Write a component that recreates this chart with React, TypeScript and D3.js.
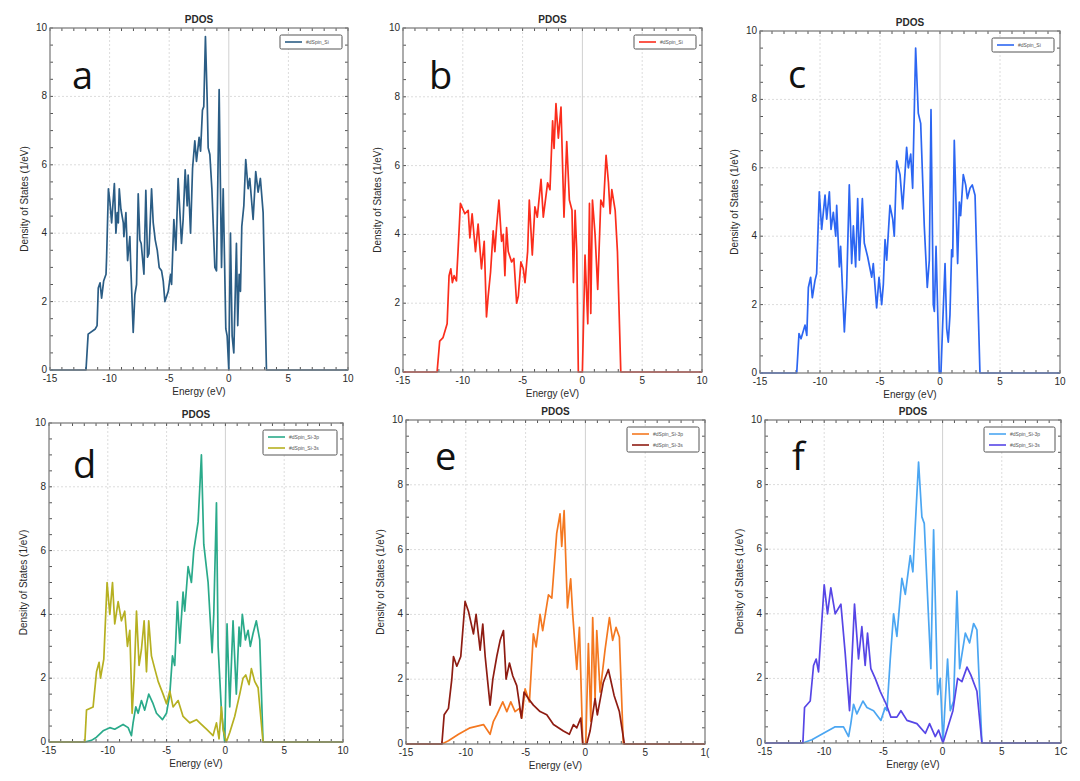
import * as d3 from "d3";

// ---- data: energy (eV) / DOS (1/eV) ----
const siE = [-15, -11.98, -11.8, -11.2, -11.05, -10.95, -10.8, -10.67, -10.5, -10.3, -10.25, -10.1, -9.97, -9.83, -9.6, -9.47, -9.36, -9.27, -9.19, -9.05, -8.85, -8.8, -8.63, -8.49, -8.3, -8.24, -8.02, -7.88, -7.74, -7.6, -7.46, -7.35, -7.12, -6.96, -6.82, -6.7, -6.48, -6.34, -6.17, -6.0, -5.84, -5.64, -5.5, -5.36, -5.08, -4.89, -4.8, -4.61, -4.44, -4.25, -3.97, -3.83, -3.66, -3.49, -3.41, -3.21, -3.04, -2.85, -2.71, -2.49, -2.37, -2.21, -2.1, -1.96, -1.82, -1.73, -1.59, -1.42, -1.17, -1.03, -0.81, -0.61, -0.47, -0.25, -0.14, 0, 0.14, 0.28, 0.42, 0.64, 0.75, 0.87, 0.98, 1.09, 1.26, 1.42, 1.62, 1.76, 2.04, 2.26, 2.46, 2.65, 2.88, 3.16, 10];
const siD = [0, 0, 1.05, 1.2, 1.3, 2.4, 2.55, 2.1, 2.6, 2.8, 3.3, 5.3, 4.9, 4.3, 5.45, 4.0, 4.6, 4.3, 5.3, 4.7, 4.3, 3.9, 4.6, 3.2, 3.9, 3.2, 1.1, 2.2, 2.5, 5.15, 3.8, 3.7, 2.8, 5.25, 3.3, 3.4, 5.3, 4.3, 3.8, 3.5, 3.0, 2.9, 2.6, 2.0, 2.3, 2.8, 2.5, 4.4, 3.5, 5.6, 3.7, 4.4, 5.85, 4.8, 5.7, 4.0, 5.9, 6.7, 6.1, 6.8, 6.4, 7.6, 7.7, 9.75, 8.0, 6.5, 6.3, 5.3, 3.0, 2.9, 8.2, 3.0, 5.3, 1.2, 1.0, 0, 4.0, 1.0, 0.5, 3.7, 1.3, 2.8, 2.3, 4.2, 4.8, 6.15, 5.3, 5.6, 4.4, 5.8, 5.2, 5.6, 4.6, 0, 0];

const siBE = [-15, -12.15, -11.93, -11.65, -11.31, -11.15, -11.0, -10.87, -10.73, -10.53, -10.4, -10.2, -9.83, -9.55, -9.41, -9.22, -8.94, -8.72, -8.44, -8.21, -8.02, -7.88, -7.68, -7.46, -7.32, -7.18, -6.98, -6.76, -6.62, -6.48, -6.34, -6.2, -5.92, -5.73, -5.5, -5.36, -5.14, -4.94, -4.8, -4.58, -4.44, -4.19, -3.97, -3.77, -3.46, -3.27, -2.91, -2.71, -2.49, -2.37, -2.21, -2.01, -1.79, -1.54, -1.31, -1.09, -0.87, -0.75, -0.61, -0.47, -0.34, 0, 0.22, 0.45, 0.59, 0.7, 0.84, 1.06, 1.28, 1.54, 1.76, 1.98, 2.18, 2.32, 2.46, 2.74, 2.93, 3.21, 10];
const siBD = [0, 0, 0.9, 1.0, 1.4, 2.8, 3.0, 2.6, 2.8, 2.65, 3.5, 4.9, 4.6, 4.7, 3.9, 4.6, 3.5, 4.3, 3.0, 3.8, 1.6, 2.2, 2.9, 4.1, 3.5, 4.2, 5.0, 3.8, 4.0, 2.8, 4.2, 3.5, 3.2, 3.3, 2.0, 2.2, 3.2, 3.0, 2.6, 3.5, 5.0, 3.4, 4.8, 4.5, 5.6, 4.5, 5.5, 5.3, 7.3, 6.5, 7.8, 6.8, 7.7, 4.5, 6.7, 5.0, 4.7, 2.6, 4.7, 3.5, 0, 0, 3.4, 1.4, 4.9, 1.7, 5.0, 4.0, 2.4, 5.0, 4.8, 6.3, 5.5, 4.6, 5.3, 4.7, 3.5, 0, 0];

const siCE = [-15, -11.94, -11.75, -11.58, -11.25, -11.1, -10.97, -10.78, -10.64, -10.42, -10.28, -10.06, -9.86, -9.58, -9.44, -9.22, -9.08, -8.89, -8.69, -8.61, -8.39, -8.28, -7.97, -7.78, -7.56, -7.36, -7.22, -7.03, -6.86, -6.72, -6.47, -6.31, -6.03, -5.69, -5.56, -5.28, -5.08, -4.86, -4.72, -4.58, -4.44, -4.17, -3.94, -3.81, -3.61, -3.33, -3.11, -2.78, -2.64, -2.44, -2.28, -2.03, -1.81, -1.61, -1.31, -1.06, -0.89, -0.75, -0.56, -0.47, -0.33, -0.06, 0.08, 0.22, 0.42, 0.56, 0.69, 0.83, 0.97, 1.06, 1.19, 1.47, 1.61, 1.72, 1.94, 2.14, 2.28, 2.5, 2.69, 2.92, 3.33, 10];
const siCD = [0, 0, 1.15, 1.0, 1.4, 1.1, 2.5, 2.8, 2.2, 2.7, 2.9, 5.3, 4.2, 5.2, 4.5, 5.3, 4.2, 4.7, 4.0, 4.9, 3.1, 3.7, 1.2, 2.5, 5.5, 3.2, 4.3, 3.1, 5.1, 3.3, 5.1, 3.8, 3.4, 2.8, 3.2, 1.9, 2.8, 2.0, 2.6, 3.9, 3.3, 4.9, 4.5, 4.0, 6.2, 5.8, 4.8, 6.6, 6.0, 6.4, 5.4, 9.5, 7.6, 7.3, 4.3, 2.5, 3.3, 7.7, 2.0, 1.8, 3.7, 0, 0, 1.4, 3.2, 1.3, 0.9, 1.7, 3.6, 3.4, 6.8, 3.2, 5.0, 4.6, 5.8, 5.5, 5.1, 5.4, 5.5, 5.2, 0, 0];

const dpE = [-15, -11.95, -11.39, -10.96, -10.4, -9.83, -9.41, -8.7, -8.27, -7.99, -7.85, -7.62, -7.42, -7.14, -6.86, -6.52, -6.15, -5.86, -5.35, -5.01, -4.73, -4.5, -4.31, -4.08, -3.88, -3.6, -3.46, -3.17, -2.89, -2.69, -2.32, -2.04, -1.84, -1.47, -1.13, -0.99, -0.76, -0.62, -0.34, -0.06, 0.14, 0.37, 0.65, 0.93, 1.16, 1.27, 1.44, 1.7, 1.93, 2.12, 2.35, 2.63, 2.92, 3.2, 10];
const dpD = [0, 0, 0.05, 0.15, 0.35, 0.45, 0.4, 0.55, 0.45, 0.2, 0.6, 1.1, 0.9, 1.3, 1.0, 1.5, 1.2, 0.9, 0.7, 0.9, 1.5, 2.7, 2.4, 4.4, 3.1, 4.7, 4.1, 5.5, 5.0, 6.0, 6.9, 9.0, 6.2, 5.0, 2.8, 4.0, 7.5, 3.0, 1.0, 0, 3.7, 1.1, 3.8, 1.5, 3.6, 3.0, 4.0, 3.2, 3.5, 3.0, 3.4, 3.8, 3.2, 0, 0];
const dsE = [-15, -11.95, -11.81, -11.25, -10.96, -10.74, -10.62, -10.34, -10.06, -9.83, -9.6, -9.41, -9.12, -8.84, -8.56, -8.33, -8.13, -7.93, -7.76, -7.56, -7.34, -7.14, -6.91, -6.71, -6.52, -6.29, -6.01, -5.72, -5.3, -5.01, -4.73, -4.45, -4.02, -3.6, -3.03, -2.46, -2.18, -1.61, -1.05, -0.76, -0.54, -0.34, -0.2, 0.08, 0.37, 0.79, 1.22, 1.5, 1.73, 2.01, 2.21, 2.49, 2.78, 3.2, 10];
const dsD = [0, 0, 1.0, 1.1, 2.2, 2.5, 2.0, 2.6, 5.0, 4.0, 5.0, 3.7, 4.4, 3.8, 4.1, 3.0, 3.5, 0.9, 2.0, 4.1, 2.4, 2.9, 3.8, 2.2, 3.8, 2.7, 2.3, 1.9, 1.5, 1.2, 1.6, 1.1, 1.3, 0.8, 0.6, 0.7, 0.6, 0.4, 0.2, 0.6, 0.1, 1.1, 0.4, 0, 0.3, 0.8, 1.5, 2.0, 2.1, 1.8, 2.3, 1.9, 1.7, 0, 0];

const epE = [-15, -12.0, -11.45, -10.61, -9.64, -8.52, -7.97, -7.69, -7.41, -6.91, -6.57, -6.24, -5.88, -5.52, -5.32, -5.04, -4.68, -4.35, -4.12, -3.79, -3.57, -3.09, -2.81, -2.4, -2.12, -1.98, -1.78, -1.5, -1.23, -1.06, -0.72, -0.5, -0.22, 0.03, 0.25, 0.45, 0.61, 0.81, 0.95, 1.23, 1.64, 2.01, 2.28, 2.56, 2.84, 3.17, 10];
const epD = [0, 0, 0.1, 0.3, 0.5, 0.6, 0.3, 0.7, 0.9, 1.3, 1.0, 1.3, 1.0, 1.1, 0.8, 1.7, 1.3, 3.4, 3.0, 4.0, 3.5, 4.6, 4.5, 6.5, 7.1, 6.1, 7.2, 4.2, 5.1, 4.0, 2.3, 3.6, 0, 0, 3.1, 0.7, 3.9, 1.4, 3.5, 1.6, 2.9, 3.9, 3.2, 3.6, 3.3, 0, 0];
const esE = [-15, -12.0, -11.81, -11.45, -11.17, -11.03, -10.75, -10.42, -10.06, -9.78, -9.36, -9.14, -8.8, -8.58, -8.38, -7.97, -7.74, -7.41, -7.13, -6.85, -6.63, -6.35, -6.07, -5.74, -5.35, -5.13, -4.76, -4.35, -3.79, -3.23, -2.67, -1.84, -1.34, -1.0, -0.72, -0.39, -0.22, 0.11, 0.39, 0.81, 1.0, 1.5, 1.92, 2.4, 2.84, 3.26, 10];
const esD = [0, 0, 0.9, 1.1, 2.0, 2.7, 2.4, 2.7, 4.4, 4.1, 3.4, 4.0, 2.9, 3.7, 2.7, 1.2, 2.0, 2.7, 3.2, 3.5, 2.0, 2.5, 2.1, 1.8, 0.8, 1.6, 1.4, 1.2, 1.0, 0.9, 0.6, 0.4, 0.3, 0.6, 0.5, 0.8, 0, 0, 0.4, 1.4, 0.9, 1.9, 2.3, 1.5, 1.0, 0, 0];

const fpE = [-15, -11.8, -11.04, -10.06, -9.07, -8.37, -7.94, -7.75, -7.52, -7.24, -6.73, -6.39, -5.83, -5.21, -4.85, -4.7, -4.42, -4.14, -3.86, -3.44, -3.15, -2.73, -2.51, -2.03, -1.75, -1.55, -0.99, -0.76, -0.42, -0.2, 0.03, 0.42, 0.65, 0.93, 1.21, 1.44, 1.92, 2.28, 2.62, 2.9, 3.32, 10];
const fpD = [0, 0, 0.1, 0.3, 0.5, 0.5, 0.2, 0.6, 1.2, 0.9, 1.3, 1.1, 1.0, 0.7, 1.1, 1.0, 2.6, 4.0, 3.3, 5.1, 4.6, 5.8, 5.3, 8.7, 7.0, 6.8, 2.3, 6.6, 1.5, 2.0, 0, 2.6, 1.0, 1.3, 4.7, 2.3, 3.4, 3.1, 3.7, 3.5, 0, 0];
const fsE = [-15, -11.8, -11.66, -11.18, -10.9, -10.68, -10.48, -10.0, -9.72, -9.44, -9.07, -8.59, -8.23, -7.86, -7.44, -7.1, -6.82, -6.54, -6.34, -6.06, -5.69, -5.27, -4.76, -4.37, -3.86, -3.52, -3.01, -2.17, -1.46, -1.1, -0.62, -0.34, 0.03, 0.37, 0.87, 1.27, 1.63, 2.06, 2.39, 2.9, 3.32, 10];
const fsD = [0, 0, 1.1, 1.3, 2.4, 2.6, 2.2, 4.9, 4.0, 4.8, 4.0, 4.3, 2.8, 1.0, 4.3, 2.6, 3.6, 2.4, 3.4, 2.3, 2.0, 1.6, 1.2, 0.8, 0.8, 1.0, 0.7, 0.6, 0.3, 0.6, 0.2, 0.4, 0, 0.4, 1.0, 2.0, 1.9, 2.35, 2.1, 1.6, 0, 0];

const xTicks = [-15, -10, -5, 0, 5, 10];
const yTicks = [0, 2, 4, 6, 8, 10];

type Series = { name: string; e: number[]; d: number[]; color: string };
type PanelSpec = {
  letter: string;
  left: number;
  right: number;
  top: number;
  bottom: number;
  letterX: number;
  letterY: number;
  legendW: number;
  lastXLabel?: string;
  series: Series[];
};

const panels: PanelSpec[] = [
  { letter: "a", left: 50, right: 348, top: 28, bottom: 370, letterX: 72, letterY: 89, legendW: 62,
    series: [{ name: "#dSpin_Si", e: siE, d: siD, color: "#2b5d85" }] },
  { letter: "b", left: 403, right: 702, top: 28, bottom: 372, letterX: 429, letterY: 89, legendW: 62,
    series: [{ name: "#dSpin_Si", e: siBE, d: siBD, color: "#fb2d1c" }] },
  { letter: "c", left: 760, right: 1060, top: 31, bottom: 373, letterX: 788, letterY: 88, legendW: 62,
    series: [{ name: "#dSpin_Si", e: siCE, d: siCD, color: "#2c66f2" }] },
  { letter: "d", left: 49, right: 343, top: 423, bottom: 742, letterX: 73, letterY: 478, legendW: 74,
    series: [
      { name: "#dSpin_Si-3p", e: dpE, d: dpD, color: "#2aaa8a" },
      { name: "#dSpin_Si-3s", e: dsE, d: dsD, color: "#b6b021" },
    ] },
  { letter: "e", left: 406, right: 705, top: 420, bottom: 744, letterX: 435, letterY: 470, legendW: 72, lastXLabel: "1(",
    series: [
      { name: "#dSpin_Si-3p", e: epE, d: epD, color: "#f47820" },
      { name: "#dSpin_Si-3s", e: esE, d: esD, color: "#8e1c12" },
    ] },
  { letter: "f", left: 765, right: 1061, top: 420, bottom: 743, letterX: 792, letterY: 470, legendW: 71, lastXLabel: "1C",
    series: [
      { name: "#dSpin_Si-3p", e: fpE, d: fpD, color: "#4ba6f2" },
      { name: "#dSpin_Si-3s", e: fsE, d: fsD, color: "#5646e6" },
    ] },
];

const txt = "#2a2a2a";
const font = "Liberation Sans, Arial, sans-serif";

function Panel({ p }: { p: PanelSpec }) {
  const x = d3.scaleLinear().domain([-15, 10]).range([p.left, p.right]);
  const y = d3.scaleLinear().domain([0, 10]).range([p.bottom, p.top]);
  const minorX = d3.range(-15, 10.01, 1);
  const minorY = d3.range(0, 10.01, 0.5);
  const cx = (p.left + p.right) / 2;
  const cy = (p.top + p.bottom) / 2;
  const lx = p.right - p.legendW - 6;
  const ly = p.top + 7;
  const lh = p.series.length > 1 ? 25 : 14;

  return (
    <g>
      {/* grid */}
      {xTicks.slice(1, -1).map((t) => (
        <line key={"gx" + t} x1={x(t)} x2={x(t)} y1={p.top} y2={p.bottom}
          stroke={t === 0 ? "#d0d0d0" : "#dcdcdc"} strokeWidth={1} strokeDasharray={t === 0 ? undefined : "2,2"} />
      ))}
      {yTicks.slice(1, -1).map((t) => (
        <line key={"gy" + t} x1={p.left} x2={p.right} y1={y(t)} y2={y(t)}
          stroke="#dcdcdc" strokeWidth={1} strokeDasharray="2,2" />
      ))}
      {/* minor ticks, inward on all sides */}
      {minorX.map((t) => (
        <g key={"mx" + t}>
          <line x1={x(t)} x2={x(t)} y1={p.bottom} y2={p.bottom - 3} stroke="#555" />
          <line x1={x(t)} x2={x(t)} y1={p.top} y2={p.top + 3} stroke="#555" />
        </g>
      ))}
      {minorY.map((t) => (
        <g key={"my" + t}>
          <line x1={p.left} x2={p.left + 3} y1={y(t)} y2={y(t)} stroke="#555" />
          <line x1={p.right} x2={p.right - 3} y1={y(t)} y2={y(t)} stroke="#555" />
        </g>
      ))}
      {/* curves */}
      {p.series.map((s) => {
        const pts = s.e.map((e, i) => [e, s.d[i]] as [number, number]);
        const line = d3.line<[number, number]>().x((d) => x(d[0])).y((d) => y(d[1]));
        return <path key={s.name} d={line(pts) ?? ""} fill="none" stroke={s.color} strokeWidth={1.7} strokeLinejoin="round" />;
      })}
      <rect x={p.left} y={p.top} width={p.right - p.left} height={p.bottom - p.top} fill="none" stroke="#808080" strokeWidth={1.3} />
      {/* tick labels */}
      {xTicks.map((t, i) => (
        <text key={"tx" + t} x={x(t)} y={p.bottom + 12} textAnchor="middle" fontSize={10} fill={txt} fontFamily={font}>
          {i === xTicks.length - 1 && p.lastXLabel ? p.lastXLabel : String(t)}
        </text>
      ))}
      {yTicks.map((t) => (
        <text key={"ty" + t} x={p.left - 3} y={y(t) + 3} textAnchor="end" fontSize={10} fill={txt} fontFamily={font}>
          {t}
        </text>
      ))}
      <text x={cx} y={p.top - 5} textAnchor="middle" fontSize={10} fontWeight="bold" fill={txt} fontFamily={font}>PDOS</text>
      <text x={cx} y={p.bottom + 25} textAnchor="middle" fontSize={10} fill={txt} fontFamily={font}>Energy (eV)</text>
      <text transform={`translate(${p.left - 22},${cy}) rotate(-90)`} textAnchor="middle" fontSize={10} fill={txt} fontFamily={font}>
        Density of States (1/eV)
      </text>
      {/* legend */}
      <rect x={lx} y={ly} width={p.legendW} height={lh} rx={1.5} fill="#fff" stroke="#555" strokeWidth={1} />
      {p.series.map((s, i) => (
        <g key={"lg" + s.name}>
          <line x1={lx + 5} x2={lx + 22} y1={ly + 7 + i * 11} y2={ly + 7 + i * 11} stroke={s.color} strokeWidth={1.6} />
          <text x={lx + 26} y={ly + 9 + i * 11} fontSize={5} fill="#555" fontFamily={font}>{s.name}</text>
        </g>
      ))}
      <text x={p.letterX} y={p.letterY} fontSize={38} fill="#111" fontFamily="Open Sans, Noto Sans, sans-serif">{p.letter}</text>
    </g>
  );
}

export default function App() {
  return (
    <svg width={1080} height={781} style={{ position: "absolute", left: 0, top: 0, background: "#fff" }}>
      <rect width={1080} height={781} fill="#fff" />
      {panels.map((p) => (
        <Panel key={p.letter} p={p} />
      ))}
    </svg>
  );
}
